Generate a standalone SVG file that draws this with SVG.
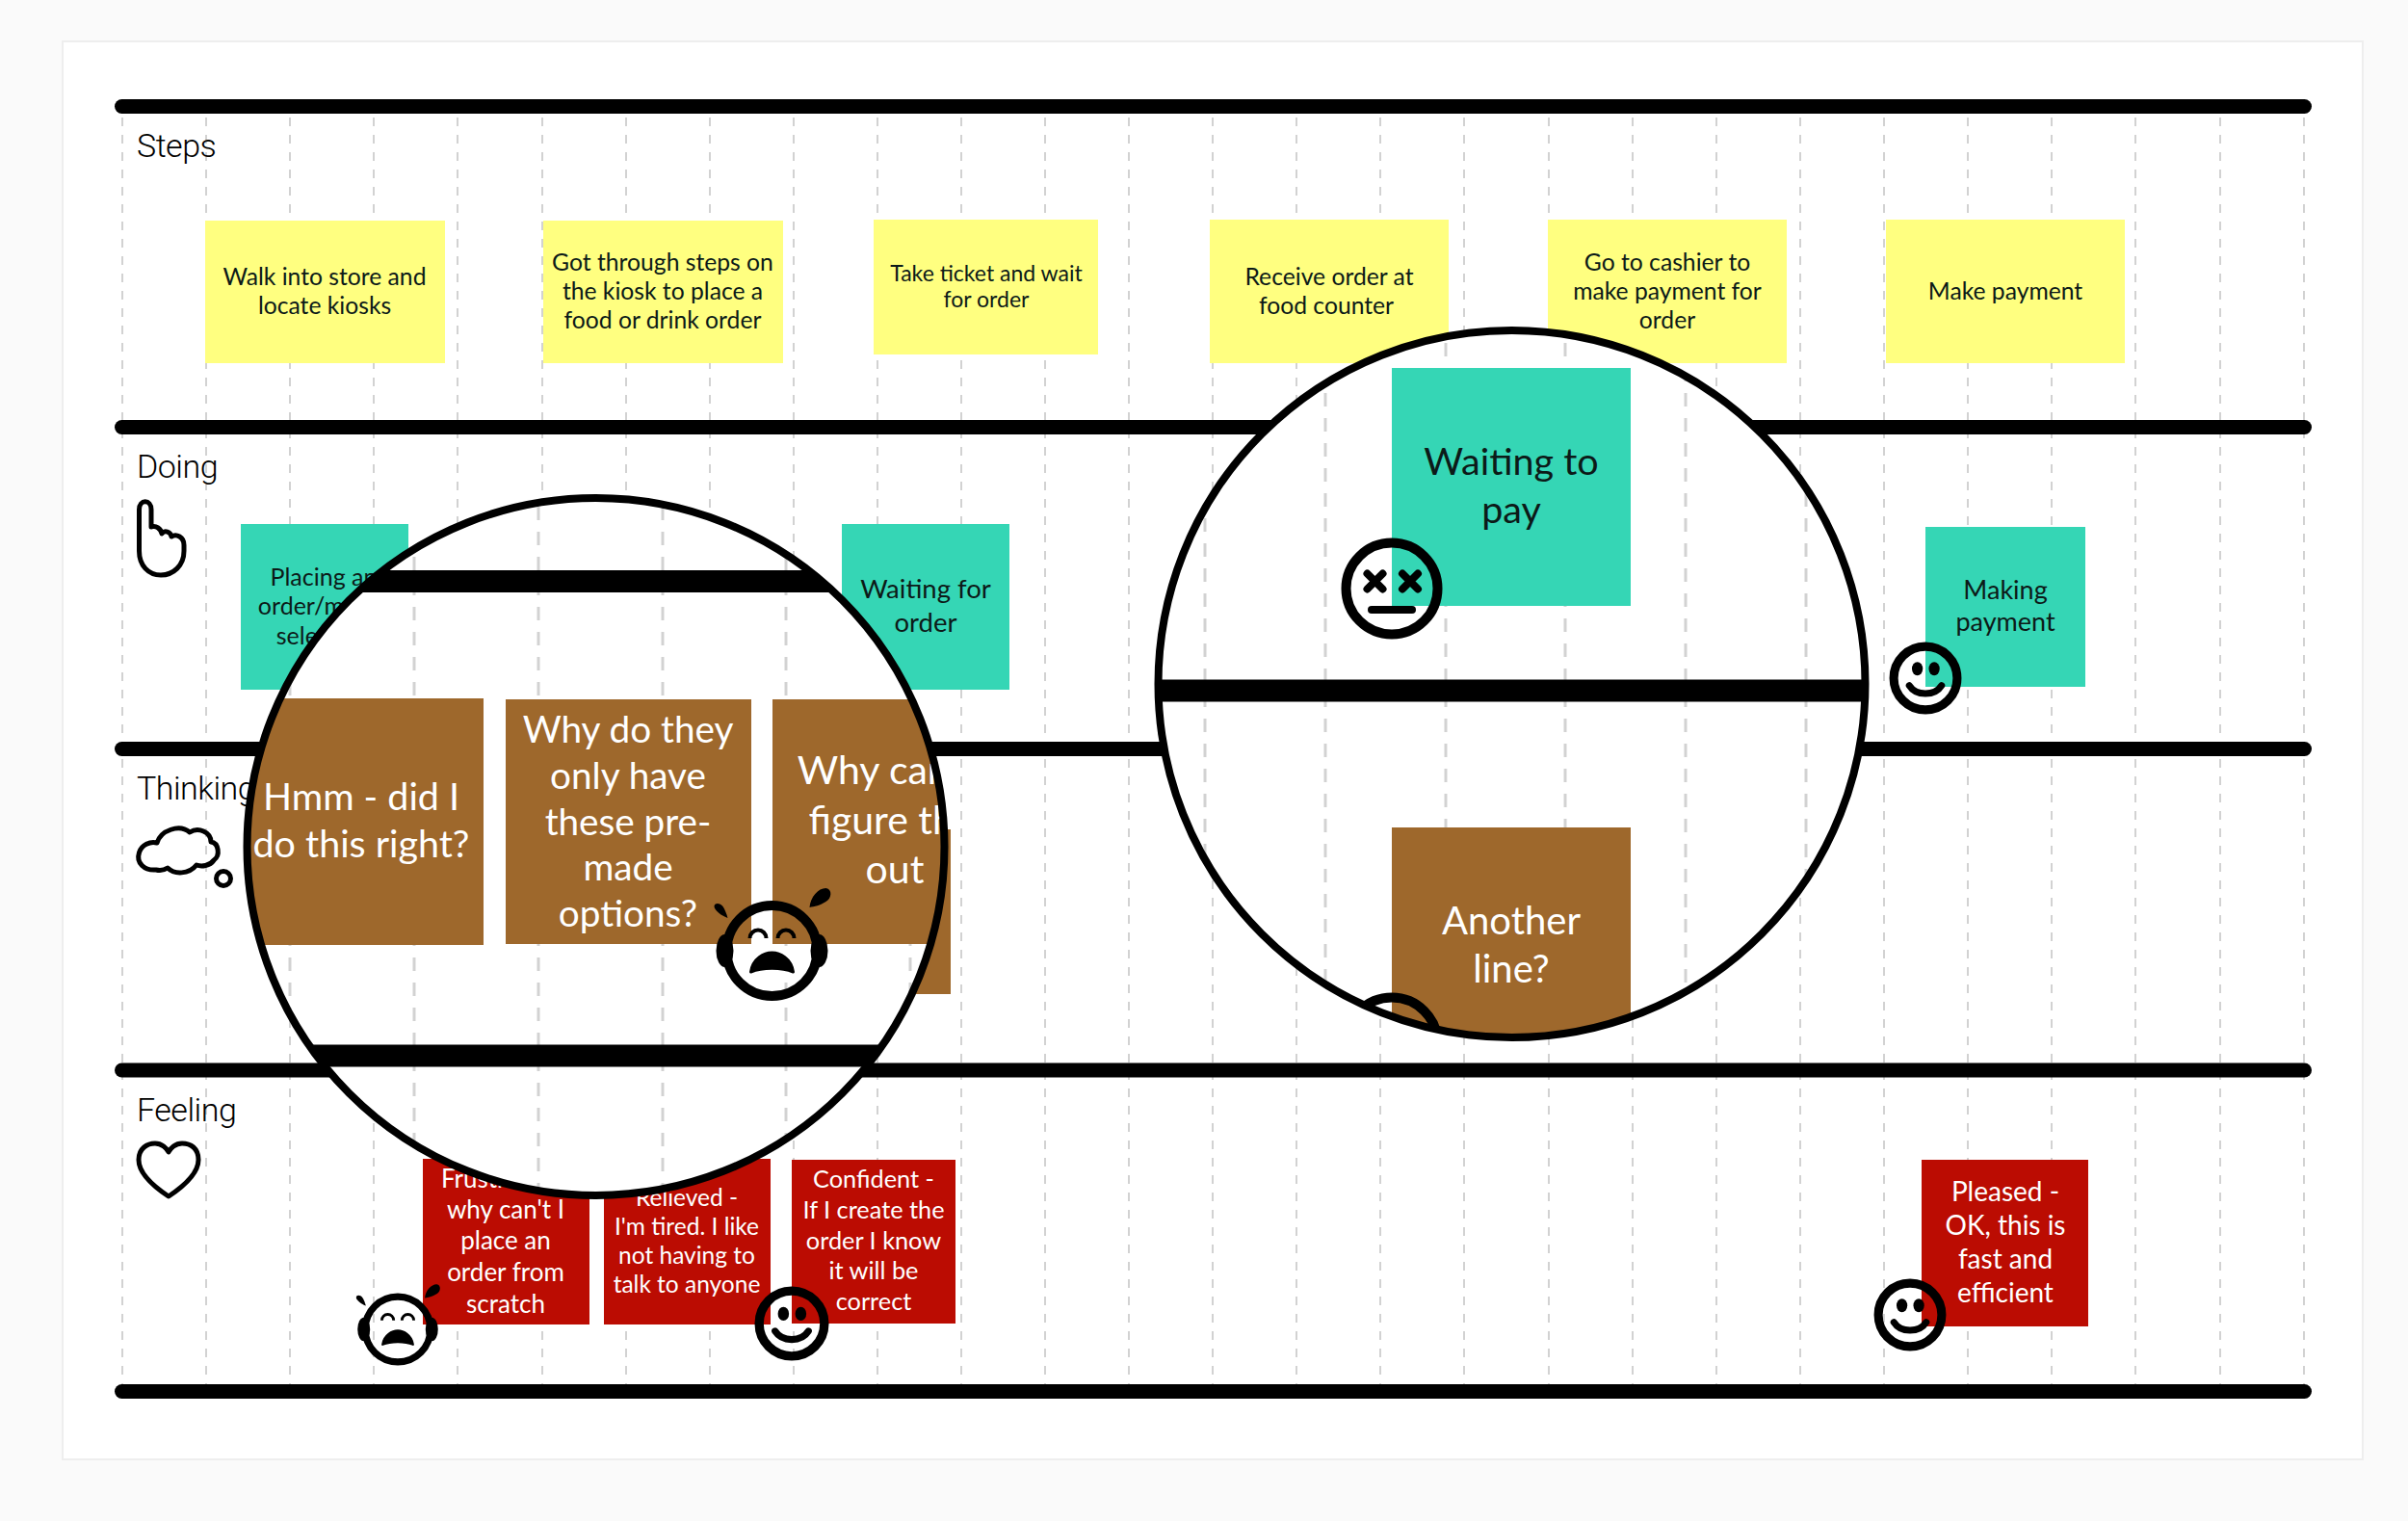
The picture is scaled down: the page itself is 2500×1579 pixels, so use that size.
<svg xmlns="http://www.w3.org/2000/svg" xmlns:xlink="http://www.w3.org/1999/xlink" width="2500" height="1579" viewBox="0 0 2500 1579">
<style>
.bar{stroke:#000;stroke-width:15;stroke-linecap:round;fill:none}
.bar2{stroke:#000;stroke-width:23;fill:none}
.grid{stroke:#d2d2d2;stroke-width:2;stroke-dasharray:9 9;fill:none}
.grid2{stroke:#d2d2d2;stroke-width:3;stroke-dasharray:14 12;fill:none}
text{font-family:"Lato","Liberation Sans",sans-serif;text-anchor:middle}
.y{fill:#ffff80}.t{fill:#35d6b5}.b{fill:#9e682c}.r{fill:#bb0c02}
.dk{fill:#0c1a18}.wh{fill:#fff}
.lab{font-family:"Roboto","Liberation Sans",sans-serif;font-weight:300;text-anchor:start;font-size:34px;fill:#000;letter-spacing:-.5px}
.ic{fill:none;stroke:#000;stroke-width:5;stroke-linejoin:round}
.lens{fill:none;stroke:#000;stroke-width:8}
.ln{fill:none;stroke:#000;stroke-width:10}
</style>
<defs>
<clipPath id="c1"><circle cx="618.5" cy="879" r="362"/></clipPath>
<clipPath id="c2"><circle cx="1569.5" cy="710" r="367"/></clipPath>
<g id="happy">
<circle r="47" class="ln" style="stroke-width:13"/>
<ellipse cx="-12" cy="-14" rx="8" ry="10"/><ellipse cx="13" cy="-14" rx="8" ry="10"/>
<path d="M-24 11C-14 27 14 27 24 11" fill="none" stroke="#000" stroke-width="10" stroke-linecap="round"/>
</g>
<g id="cry">
<circle r="47" class="ln"/>
<ellipse cx="-49" cy="0" rx="9" ry="17"/><ellipse cx="49" cy="0" rx="9" ry="17"/>
<path d="M-23 -13a8.500 8.500 0 0 1 17 0M6 -13a8.500 8.500 0 0 1 17 0" fill="none" stroke="#000" stroke-width="4"/>
<path d="M-22 22C-20 8 -8 2 0 2C8 2 20 8 22 22C10 17 -10 17 -22 22Z" stroke="#000" stroke-width="3" stroke-linejoin="round"/>
<path d="M-46 -34C-52 -36 -60 -42 -60 -46C-60 -50 -54 -50 -51 -46C-49 -43 -47 -38 -46 -34Z"/>
<path d="M39 -45C40 -56 48 -65 56 -65C63 -64 62 -54 56 -51C50 -47 44 -46 39 -45Z"/>
</g>
</defs>
<rect width="2500" height="1579" fill="#fafafa"/>
<rect x="65" y="43" width="2388" height="1472" fill="#fff" stroke="#eee" stroke-width="2"/>

<g id="grid">
<path class="grid" d="M127 122V1437M214 122V1437M301 122V1437M388 122V1437M475 122V1437M563 122V1437M650 122V1437M737 122V1437M824 122V1437M911 122V1437M998 122V1437M1085 122V1437M1172 122V1437M1259 122V1437M1346 122V1437M1433 122V1437M1520 122V1437M1608 122V1437M1695 122V1437M1782 122V1437M1869 122V1437M1956 122V1437M2043 122V1437M2130 122V1437M2217 122V1437M2305 122V1437M2392 122V1437"/>
</g>
<g id="connectors">
<path class="bar" d="M126.500 110.500H2392.500"/>
<path class="bar" d="M126.500 443.500H2392.500"/>
<path class="bar" d="M126.500 777.500H2392.500"/>
<path class="bar" d="M126.500 1111H2392.500"/>
<path class="bar" d="M126.500 1444.500H2392.500"/>
</g>

<g id="label-steps"><text class="lab" x="142" y="163">Steps</text></g>
<g id="label-doing"><text class="lab" x="142" y="496">Doing</text>
<path class="ic" d="M144.500 565V529C144.500 518 157 518 157 529V547C162 545 167 549 168 554C171 550 177 552 178 557C183 554 191 557 191 566V572C191 587 180 597 167 597C154 597 144.500 587 144.500 572Z"/></g>
<g id="label-thinking"><text class="lab" x="142" y="830">Thinking</text>
<path class="ic" d="M162 903C150 904 141 896 144.500 885C147 877 156 873 163 875C167 862 186 855 197 864C206 858 219 864 219 874C227 875 229 888 222 893C218 899 209 900 204 898C196 908 181 908 174 901C171 903 166 904 162 903Z"/>
<circle class="ic" cx="232" cy="912" r="7.500"/></g>
<g id="label-feeling"><text class="lab" x="142" y="1164">Feeling</text>
<path class="ic" d="M175 1242C160 1232 144 1219 144 1204C144 1192 153 1187 161 1187C168 1187 173 1192 175 1196C177 1192 182 1187 189 1187C198 1187 206 1192 206 1204C206 1219 190 1232 175 1242Z"/></g>

<g id="step-1"><rect class="y" x="213" y="229" width="249" height="148"/><text font-size="24.700" class="dk"><tspan x="337" y="296">Walk into store and</tspan><tspan x="337" y="326">locate kiosks</tspan></text></g>
<g id="step-2"><rect class="y" x="564" y="229" width="249" height="148"/><text font-size="24.700" class="dk"><tspan x="688" y="281">Got through steps on</tspan><tspan x="688" y="311">the kiosk to place a</tspan><tspan x="688" y="341">food or drink order</tspan></text></g>
<g id="step-3"><rect class="y" x="907" y="228" width="233" height="140"/><text font-size="23" class="dk"><tspan x="1024" y="292">Take ticket and wait</tspan><tspan x="1024" y="319">for order</tspan></text></g>
<g id="step-4"><rect class="y" x="1256" y="228" width="248" height="149"/><text font-size="24.700" class="dk"><tspan x="1380" y="296">Receive order at</tspan><tspan x="1377" y="326">food counter</tspan></text></g>
<g id="step-5"><rect class="y" x="1607" y="228" width="248" height="149"/><text font-size="24.700" class="dk"><tspan x="1731" y="281">Go to cashier to</tspan><tspan x="1731" y="311">make payment for</tspan><tspan x="1731" y="341">order</tspan></text></g>
<g id="step-6"><rect class="y" x="1958" y="228" width="248" height="149"/><text font-size="24.700" class="dk" x="2082" y="311">Make payment</text></g>

<g id="doing-1"><rect class="t" x="250" y="544" width="174" height="172"/><text font-size="25" class="dk"><tspan x="336" y="608">Placing an</tspan><tspan x="333" y="638">order/menu</tspan><tspan x="336" y="669">selection</tspan></text></g>
<g id="doing-2"><rect class="t" x="874" y="544" width="174" height="172"/><text font-size="27.500" class="dk"><tspan x="961" y="621">Waiting for</tspan><tspan x="961" y="656">order</tspan></text></g>
<g id="doing-3"><rect class="t" x="1999" y="547" width="166" height="166"/><text font-size="27" class="dk"><tspan x="2082" y="622">Making</tspan><tspan x="2082" y="655">payment</tspan></text>
<use xlink:href="#happy" href="#happy" transform="translate(1999 704) scale(.7)"/></g>

<g id="think-peek"><rect class="b" x="815" y="861" width="172" height="171"/></g>

<g id="feel-1"><rect class="r" x="439" y="1203" width="173" height="172"/><text font-size="26" class="wh"><tspan x="525" y="1233">Frustrated -</tspan><tspan x="525" y="1265">why can't I</tspan><tspan x="525" y="1297">place an</tspan><tspan x="525" y="1330">order from</tspan><tspan x="525" y="1363">scratch</tspan></text>
<use xlink:href="#cry" href="#cry" transform="translate(413 1380) scale(.72)"/></g>
<g id="feel-2"><rect class="r" x="627" y="1203" width="173" height="172"/><text font-size="24.500" class="wh"><tspan x="713" y="1252">Relieved -</tspan><tspan x="713" y="1282">I'm tired. I like</tspan><tspan x="713" y="1312">not having to</tspan><tspan x="713" y="1342">talk to anyone</tspan></text></g>
<g id="feel-3"><rect class="r" x="822" y="1204" width="170" height="170"/><text font-size="25.300" class="wh"><tspan x="907" y="1233">Confident -</tspan><tspan x="907" y="1265">If I create the</tspan><tspan x="907" y="1297">order I know</tspan><tspan x="907" y="1328">it will be</tspan><tspan x="907" y="1360">correct</tspan></text>
<use xlink:href="#happy" href="#happy" transform="translate(822 1374) scale(.72)"/></g>
<g id="feel-4"><rect class="r" x="1995" y="1204" width="173" height="173"/><text font-size="28" class="wh"><tspan x="2082" y="1247">Pleased -</tspan><tspan x="2082" y="1282">OK, this is</tspan><tspan x="2082" y="1317">fast and</tspan><tspan x="2082" y="1352">efficient</tspan></text>
<use xlink:href="#happy" href="#happy" transform="translate(1983 1365) scale(.7)"/></g>

<g id="lens-1">
<circle cx="618.500" cy="879" r="362" fill="#fff"/>
<g clip-path="url(#c1)">
<path class="grid2" d="M301 500V1250M430 500V1250M559 500V1250M688 500V1250M816 500V1250M945 500V1250"/>
<path class="bar2" d="M200 603.500H1000M200 1096H1000"/>
<g id="lens-think-1"><rect class="b" x="248" y="725" width="254" height="256"/><text font-size="39.400" class="wh"><tspan x="375" y="841">Hmm - did I</tspan><tspan x="375" y="890">do this right?</tspan></text></g>
<g id="lens-think-2"><rect class="b" x="525" y="726" width="255" height="254"/><text font-size="38.700" class="wh"><tspan x="652" y="771">Why do they</tspan><tspan x="652" y="819">only have</tspan><tspan x="652" y="867">these pre-</tspan><tspan x="652" y="914">made</tspan><tspan x="652" y="962">options?</tspan></text></g>
<g id="lens-think-3"><rect class="b" x="802" y="726" width="254" height="254"/><text font-size="41" class="wh"><tspan x="929" y="814">Why can't I</tspan><tspan x="929" y="866">figure this</tspan><tspan x="929" y="917">out</tspan></text></g>
<use xlink:href="#cry" href="#cry" transform="translate(801.500 987)"/>
</g>
<circle class="lens" cx="618.500" cy="879" r="362"/>
</g>

<g id="lens-2">
<circle cx="1569.500" cy="710" r="367" fill="#fff"/>
<g clip-path="url(#c2)">
<path class="grid2" d="M1251 330V1090M1376 330V1090M1501 330V1090M1625 330V1090M1750 330V1090M1875 330V1090"/>
<path class="bar2" d="M1190 717H1950"/>
<g id="lens-doing"><rect class="t" x="1445" y="382" width="248" height="247"/><text font-size="39.500" class="dk"><tspan x="1569" y="493">Waiting to</tspan><tspan x="1569" y="543">pay</tspan></text>
<circle class="ln" cx="1445" cy="611" r="47.500"/>
<path d="M1419.500 595.500L1435.500 611.500M1435.500 595.500L1419.500 611.500M1456 595.500L1472 611.500M1472 595.500L1456 611.500" stroke="#000" stroke-width="8" stroke-linecap="round"/>
<path d="M1424 633H1466" stroke="#000" stroke-width="8" stroke-linecap="round"/></g>
<g id="lens-think"><rect class="b" x="1445" y="859" width="248" height="248"/><text font-size="40" class="wh"><tspan x="1569" y="970">Another</tspan><tspan x="1569" y="1020">line?</tspan></text>
<circle class="ln" cx="1445" cy="1083" r="47.500"/></g>
</g>
<circle class="lens" cx="1569.500" cy="710" r="367"/>
</g>
</svg>
